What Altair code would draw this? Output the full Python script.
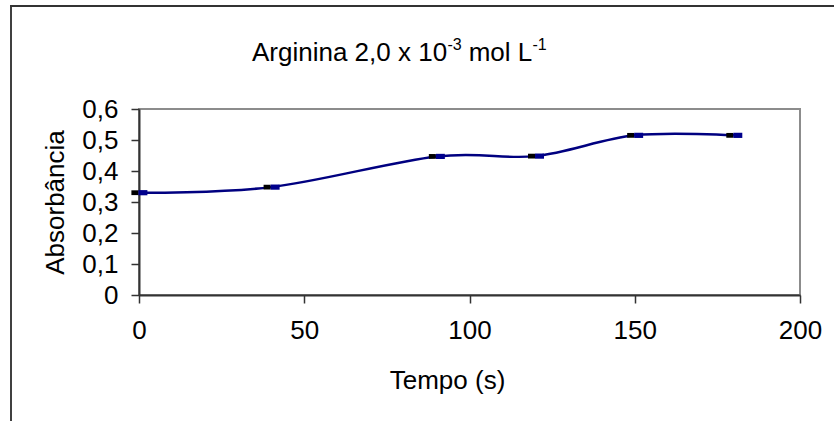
import altair as alt
import pandas as pd

# Absorbance of arginine 2.0e-3 mol/L over time
tempo = [0, 40, 90, 120, 150, 180]
absorbancia = [0.33, 0.348, 0.447, 0.448, 0.515, 0.515]

x_ticks = [0, 50, 100, 150, 200]
y_ticks = [0, 0.1, 0.2, 0.3, 0.4, 0.5, 0.6]

df = pd.DataFrame({"t": tempo, "a": absorbancia})
one = pd.DataFrame({"k": [0]})

FONT = "Liberation Sans"
FS = 26
NAVY = "#000080"

x_enc = alt.X("t:Q", scale=alt.Scale(domain=[0, 200], nice=False),
              axis=alt.Axis(values=x_ticks, tickCount=len(x_ticks), title="Tempo (s)",
                            grid=False, tickSize=8, labelPadding=14, labelFlush=False,
                            labelOverlap=False,
                            titleX=308, titleY=93, titleBaseline="alphabetic",
                            titleAnchor="start", titleAlign="center"))
y_enc = alt.Y("a:Q", scale=alt.Scale(domain=[0, 0.6], nice=False),
              axis=alt.Axis(values=y_ticks, tickCount=len(y_ticks), title="Absorbância",
                            grid=False, tickSize=8, labelPadding=13, labelFlush=False,
                            labelOverlap=False,
                            labelExpr="datum.value == 0 ? '0' : replace(format(datum.value, '.1f'), '.', ',')",
                            titleX=-76, titleY=93, titleBaseline="alphabetic",
                            titleAngle=-90, titleAlign="center"))

line = alt.Chart(df).mark_line(color=NAVY, strokeWidth=2.5,
                               interpolate="cardinal", tension=0).encode(x=x_enc, y=y_enc)

mk_black = alt.Chart(df).mark_rect(color="#000000", xOffset=-7.6, x2Offset=-0.6,
                                   yOffset=-2.4, y2Offset=2.4).encode(
    x="t:Q", x2="t:Q", y="a:Q", y2="a:Q")
mk_blue = alt.Chart(df).mark_rect(color="#00008c", xOffset=-0.6, x2Offset=8.4,
                                  yOffset=-2.6, y2Offset=2.6).encode(
    x="t:Q", x2="t:Q", y="a:Q", y2="a:Q")

# Title pieces with superscripts
def txt(s, x, y, size):
    return alt.Chart(one).mark_text(text=s, font=FONT, fontSize=size, align="left",
                                    baseline="alphabetic", color="#000000").encode(
        x=alt.value(x), y=alt.value(y))

t1 = txt("Arginina 2,0 x 10", 113, -48, FS)
t2 = txt("-3", 308.5, -59, 16)
t3 = txt("mol L", 329.7, -48, FS)
t4 = txt("-1", 393.5, -59, 16)

# Outer frame (left and top edges)
frame_left = alt.Chart(one).mark_rule(color="#000000", strokeWidth=1.5).encode(
    x=alt.value(-128), y=alt.value(-104), y2=alt.value(340))
frame_top = alt.Chart(one).mark_rule(color="#333333", strokeWidth=2).encode(
    x=alt.value(-128.75), x2=alt.value(720), y=alt.value(-103))

chart = alt.layer(frame_left, frame_top, line, mk_black, mk_blue, t1, t2, t3, t4).properties(
    width=661, height=186,
    autosize=alt.AutoSizeParams(type="none"),
    padding={"left": 139, "top": 109, "right": 34, "bottom": 126},
    background="white",
).configure_view(
    stroke="#8c8c8c", strokeWidth=2
).configure_axis(
    labelFont=FONT, labelFontSize=FS, labelColor="#000000",
    titleFont=FONT, titleFontSize=FS, titleColor="#000000", titleFontWeight="normal",
    domainColor="#333333", domainWidth=2, tickColor="#333333", tickWidth=1.5,
)

chart.save("out.html", embed_options={"renderer": "svg", "actions": False})
